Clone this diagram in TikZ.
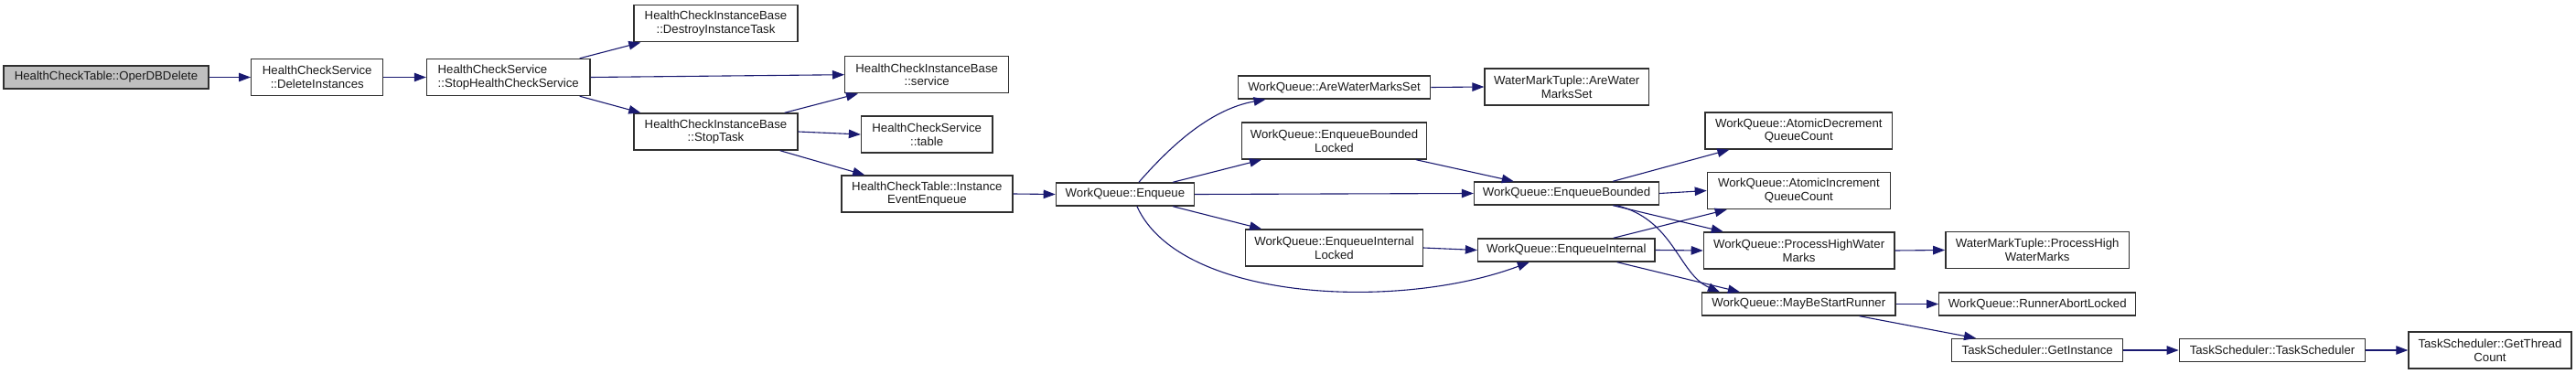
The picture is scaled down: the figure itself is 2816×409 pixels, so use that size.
\documentclass[tikz,border=0pt]{standalone}
\usepackage{fontspec}
\setmainfont{Liberation Sans}
\usetikzlibrary{arrows.meta,calc}
\definecolor{edgeblue}{HTML}{191970}
\definecolor{rootgray}{HTML}{BFBFBF}
\definecolor{boxline}{HTML}{303030}
\definecolor{boxtext}{HTML}{1A1A1A}
\begin{document}
\begin{tikzpicture}[x=1pt,y=-1pt,
  fn/.style={draw=boxline, line width=1.4pt, fill=white, inner sep=0pt, align=center,
    text=boxtext, font=\fontsize{13.2}{14.6}\selectfont},
  sz/.style 2 args={minimum width=#1pt, minimum height=#2pt},
  call/.style={draw=edgeblue, line width=1.1pt, -{Triangle[length=13pt,width=9.5pt]}, fill=none}
]
\useasboundingbox (0,0) rectangle (2816,409);
\fill[white] (0,0) rectangle (2816,409);

\node[fn, sz={224}{25}, fill=rootgray] (root) at (116,84.5) {HealthCheckTable::OperDBDelete};
\node[fn, sz={144}{40}] (delinst) at (346.75,84.5) {HealthCheckService\\::DeleteInstances};
\node[fn, sz={178.5}{40}, align=left] (stophcs) at (555.75,84.5) {HealthCheckService\\::StopHealthCheckService};
\node[fn, sz={179}{40}] (destroy) at (782.5,25.75) {HealthCheckInstanceBase\\::DestroyInstanceTask};
\node[fn, sz={179}{40}] (service) at (1013.2,81.7) {HealthCheckInstanceBase\\::service};
\node[fn, sz={179}{40}] (stoptask) at (782.5,144) {HealthCheckInstanceBase\\::StopTask};
\node[fn, sz={143.3}{40}] (table) at (1013.2,147) {HealthCheckService\\::table};
\node[fn, sz={187}{40}] (iee) at (1013.4,212) {HealthCheckTable::Instance\\EventEnqueue};
\node[fn, sz={151}{25}] (enqueue) at (1229.9,212.5) {WorkQueue::Enqueue};
\node[fn, sz={210.5}{25}] (arewms) at (1458.5,95.5) {WorkQueue::AreWaterMarksSet};
\node[fn, sz={201.5}{40}] (ebl) at (1458.5,154) {WorkQueue::EnqueueBounded\\Locked};
\node[fn, sz={193.5}{40}] (eil) at (1458.5,271) {WorkQueue::EnqueueInternal\\Locked};
\node[fn, sz={179.3}{40}] (wmtaws) at (1712.7,95) {WaterMarkTuple::AreWater\\MarksSet};
\node[fn, sz={202}{25}] (ebounded) at (1712.5,211.5) {WorkQueue::EnqueueBounded};
\node[fn, sz={193.5}{25}] (einternal) at (1712.3,273.5) {WorkQueue::EnqueueInternal};
\node[fn, sz={204.3}{40}] (adec) at (1966.3,143) {WorkQueue::AtomicDecrement\\QueueCount};
\node[fn, sz={200}{40}] (ainc) at (1966.4,208.5) {WorkQueue::AtomicIncrement\\QueueCount};
\node[fn, sz={208.4}{40}] (phwm) at (1966.6,274) {WorkQueue::ProcessHighWater\\Marks};
\node[fn, sz={211.4}{25}] (mbsr) at (1966.3,332.5) {WorkQueue::MayBeStartRunner};
\node[fn, sz={200.7}{40}] (wmtphwm) at (2227.2,273.5) {WaterMarkTuple::ProcessHigh\\WaterMarks};
\node[fn, sz={215}{25}] (ral) at (2227.2,332.5) {WorkQueue::RunnerAbortLocked};
\node[fn, sz={187}{25}] (getinst) at (2227.2,383) {TaskScheduler::GetInstance};
\node[fn, sz={203.4}{25}] (ts) at (2484,383) {TaskScheduler::TaskScheduler};
\node[fn, sz={178}{40}] (gtc) at (2722,383) {TaskScheduler::GetThread\\Count};

\draw[call] (root.east) -- (delinst.west);
\draw[call] (delinst.east) -- (stophcs.west);
\draw[call] ($(stophcs.north east)+(-12,0)$) -- ($(destroy.south west)+(8,0)$);
\draw[call] (stophcs.east) -- (service.west);
\draw[call] ($(stophcs.south east)+(-12,0)$) -- ($(stoptask.north west)+(8,0)$);
\draw[call] ($(stoptask.north east)+(-15,0)$) -- ($(service.south west)+(15,0)$);
\draw[call] (stoptask.east) -- (table.west);
\draw[call] ($(stoptask.south east)+(-20,0)$) -- ($(iee.north west)+(26,0)$);
\draw[call] (iee.east) -- (enqueue.west);
\draw[call] ($(enqueue.north)+(15,0)$) .. controls (1275,165) and (1320,120) .. ($(arewms.south west)+(31,0)$);
\draw[call] ($(enqueue.north east)+(-24,0)$) -- ($(ebl.south west)+(22,0)$);
\draw[call] (enqueue.east) -- (ebounded.west);
\draw[call] ($(enqueue.south east)+(-24,0)$) -- ($(eil.north west)+(18,0)$);
\draw[call] ($(enqueue.south)+(13,0)$) .. controls (1290,330) and (1530,340) .. ($(einternal.south west)+(57,0)$);
\draw[call] (arewms.east) -- (wmtaws.west);
\draw[call] ($(ebl.south east)+(-12,0)$) -- ($(ebounded.north west)+(44,0)$);
\draw[call] (eil.east) -- (einternal.west);
\draw[call] ($(ebounded.north east)+(-51,0)$) -- ($(adec.south west)+(27,0)$);
\draw[call] (ebounded.east) -- (ainc.west);
\draw[call] ($(ebounded.south east)+(-51,0)$) -- ($(phwm.north west)+(22,0)$);
\draw[call] ($(ebounded.south east)+(-47,0)$) .. controls (1830,240) and (1835,300) .. ($(mbsr.north west)+(20,0)$);
\draw[call] ($(einternal.north east)+(-46,0)$) -- ($(ainc.south west)+(22,0)$);
\draw[call] (einternal.east) -- (phwm.west);
\draw[call] ($(einternal.south east)+(-42,0)$) -- ($(mbsr.north west)+(42,0)$);
\draw[call] (phwm.east) -- (wmtphwm.west);
\draw[call] (mbsr.east) -- (ral.west);
\draw[call] ($(mbsr.south east)+(-40,0)$) -- ($(getinst.north west)+(27,0)$);
\draw[call] (getinst.east) -- (ts.west);
\draw[call] (ts.east) -- (gtc.west);
\end{tikzpicture}
\end{document}
